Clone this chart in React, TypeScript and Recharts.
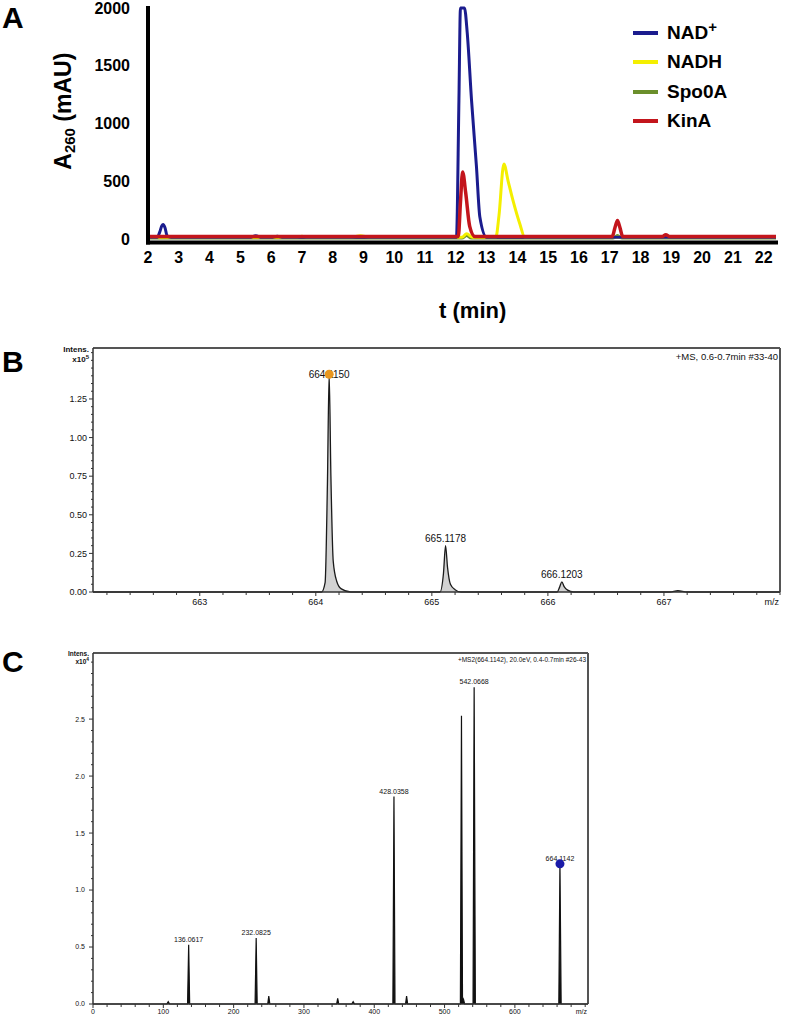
import React from 'react';
import {
  LineChart,
  Line,
  XAxis,
  YAxis,
  Legend,
  ComposedChart,
  Area,
  Scatter,
  ReferenceLine,
} from 'recharts';

const FONT = '"Liberation Sans", Arial, Helvetica, sans-serif';

// ---------- Panel A: HPLC traces, A260 (mAU) vs t (min)
const seriesNames = ['NAD+', 'NADH', 'Spo0A', 'KinA'];
const seriesColors = ['#1b1c8e', '#f4ef00', '#6b8f2b', '#c3151c'];

const nadTimes = [2.0, 2.3, 2.38, 2.45, 2.49, 2.55, 2.62, 2.75, 5.3, 5.5, 5.7, 6.0, 6.2, 6.4, 12.02, 12.1, 12.15, 12.28, 12.37, 12.51, 12.67, 12.78, 13.0, 13.3, 22.4];
const nadVals = [15, 15, 60, 115, 125, 100, 30, 15, 15, 28, 15, 15, 25, 15, 15, 1200, 2000, 2000, 1785, 1200, 625, 190, 15, 15, 15];

const nadhTimes = [2.0, 6.8, 7.0, 7.2, 8.6, 8.9, 9.2, 12.2, 12.35, 12.55, 13.3, 13.4, 13.56, 13.7, 13.86, 14.08, 14.24, 22.4];
const nadhVals = [15, 15, 25, 15, 15, 28, 15, 15, 45, 15, 15, 200, 650, 500, 330, 130, 15, 15];

const spoTimes = [2.0, 12.2, 12.35, 12.5, 17.1, 17.25, 17.4, 22.4];
const spoVals = [8, 8, 30, 8, 8, 30, 8, 8];

const kinTimes = [2.0, 12.08, 12.15, 12.22, 12.32, 12.45, 12.62, 17.08, 17.17, 17.25, 17.33, 17.42, 18.7, 18.82, 18.95, 22.4];
const kinVals = [22, 22, 320, 580, 400, 110, 22, 22, 100, 160, 100, 22, 22, 38, 22, 22];

const timeTicks = [2, 3, 4, 5, 6, 7, 8, 9, 10, 11, 12, 13, 14, 15, 16, 17, 18, 19, 20, 21, 22];
const absTicks = [0, 500, 1000, 1500, 2000];

// ---------- Panel B: MS spectrum
const msMz = [662.08, 664.05, 664.08, 664.1, 664.115, 664.13, 664.15, 664.18, 664.22, 664.3, 665.07, 665.1, 665.118, 665.135, 665.16, 665.2, 665.25, 666.08, 666.1, 666.12, 666.14, 666.17, 666.22, 667.05, 667.12, 667.2, 668.0];
const msInt = [0, 0, 0.06, 0.7, 1.41, 0.75, 0.2, 0.07, 0.02, 0, 0, 0.12, 0.3, 0.16, 0.05, 0.015, 0, 0, 0.03, 0.065, 0.035, 0.012, 0, 0, 0.008, 0, 0];
const msPeakMz = [664.115, 665.118, 666.12];
const msPeakInt = [1.41, 0.3, 0.065];
const msPeakLabels = ['664.1150', '665.1178', '666.1203'];
const msMajorX = [663, 664, 665, 666, 667];
const msMajorY = [0, 0.25, 0.5, 0.75, 1.0, 1.25];
const msInfo = '+MS, 0.6-0.7min #33-40';

// ---------- Panel C: MS2 spectrum
const ms2Mz = [0, 105, 107, 109, 134.5, 136.06, 137.5, 230.5, 232.08, 233.5, 248.5, 250, 251.5, 346.5, 348, 349.5, 368, 370, 372, 426.5, 428.04, 429.5, 444.5, 446, 447.5, 522.5, 524.05, 525.5, 527, 528.5, 540.5, 542.07, 543.8, 662.5, 664.11, 665.8, 704];
const ms2Int = [0, 0, 0.02, 0, 0, 0.52, 0, 0, 0.58, 0, 0, 0.07, 0, 0, 0.05, 0, 0, 0.02, 0, 0, 1.82, 0, 0, 0.07, 0, 0, 2.53, 0.06, 0.04, 0, 0, 2.78, 0, 0, 1.23, 0, 0];
const ms2PeakMz = [136.06, 232.08, 428.04, 542.07, 664.11];
const ms2PeakInt = [0.52, 0.58, 1.82, 2.78, 1.23];
const ms2PeakLabels = ['136.0617', '232.0825', '428.0358', '542.0668', '664.1142'];
const ms2MajorX = [0, 100, 200, 300, 400, 500, 600];
const ms2MajorY = [0, 0.5, 1.0, 1.5, 2.0, 2.5];
const ms2Info = '+MS2(664.1142), 20.0eV, 0.4-0.7min #26-43';

const toPoints = (xs: number[], ys: number[], xk: string, yk: string) =>
  xs.map((x, i) => ({ [xk]: x, [yk]: ys[i] }));

const nadPts = toPoints(nadTimes, nadVals, 't', 'v');
const nadhPts = toPoints(nadhTimes, nadhVals, 't', 'v');
const spoPts = toPoints(spoTimes, spoVals, 't', 'v');
const kinPts = toPoints(kinTimes, kinVals, 't', 'v');

const msPts = toPoints(msMz, msInt, 'mz', 'v');
const msLabelPts = msPeakMz.map((mz, i) => ({ mz, h: msPeakInt[i], label: msPeakLabels[i] }));
const ms2Pts = toPoints(ms2Mz, ms2Int, 'mz', 'v');
const ms2LabelPts = ms2PeakMz.map((mz, i) => ({ mz, h: ms2PeakInt[i], label: ms2PeakLabels[i] }));

// tick positions (majors + minors)
const msXTicks = Array.from({ length: 30 }, (_, i) => +(662.2 + i * 0.2).toFixed(1));
const msYTicks = Array.from({ length: 32 }, (_, i) => +(i * 0.05).toFixed(2));
const ms2XTicks = Array.from({ length: 36 }, (_, i) => i * 20);
const ms2YTicks = Array.from({ length: 31 }, (_, i) => +(i * 0.1).toFixed(1));

const AXIS = '#333';
const near = (a: number, b: number) => Math.abs(a - b) < 1e-6;
const inList = (list: number[]) => (v: number) => list.some((m) => near(m, v));

const PanelLetter = ({ text, top }: { text: string; top: number }) => (
  <div style={{ position: 'absolute', left: 2, top, fontSize: 30, fontWeight: 700, lineHeight: 1 }}>{text}</div>
);

function AbsLabel(props: any) {
  const { viewBox } = props;
  const cx = viewBox.x - 25;
  const cy = viewBox.y + viewBox.height * 0.44;
  return (
    <text
      x={cx}
      y={cy}
      transform={`rotate(-90, ${cx}, ${cy})`}
      textAnchor="middle"
      dominantBaseline="central"
      fontSize={23}
      fontWeight={700}
      fill="#000"
    >
      A<tspan dy={6} fontSize={15}>260</tspan>
      <tspan dy={-6}> (mAU)</tspan>
    </text>
  );
}

function TimeLabel(props: any) {
  const { viewBox } = props;
  return (
    <text x={viewBox.x + viewBox.width * 0.517} y={viewBox.y + viewBox.height + 45} textAnchor="middle" fontSize={22} fontWeight={700} fill="#000">
      t (min)
    </text>
  );
}

function TraceLegend() {
  return (
    <div style={{ fontFamily: FONT, fontWeight: 700, fontSize: 19, color: '#000' }}>
      {seriesNames.map((name, i) => (
        <div key={name} style={{ display: 'flex', alignItems: 'center', height: 29.5 }}>
          <span style={{ display: 'inline-block', width: 25, height: 4, background: seriesColors[i], marginRight: 9 }} />
          {name === 'NAD+' ? (
            <span>
              NAD<sup style={{ fontSize: 15, lineHeight: 0 }}>+</sup>
            </span>
          ) : (
            <span>{name}</span>
          )}
        </div>
      ))}
    </div>
  );
}

// minor/major ticks for the spectrum axes
function makeYTick(isMajor: (v: number) => boolean, digits: number, fontSize: number, gap: number) {
  return (props: any) => {
    const { x, y, payload } = props;
    const major = isMajor(payload.value);
    return (
      <g>
        <line x1={x} x2={x - (major ? 4 : 2)} y1={y} y2={y} stroke={AXIS} strokeWidth={1} />
        {major && (
          <text x={x - gap} y={y} dy="0.35em" textAnchor="end" fontSize={fontSize} fill="#111">
            {payload.value.toFixed(digits)}
          </text>
        )}
      </g>
    );
  };
}

function makeXTick(isMajor: (v: number) => boolean, fontSize: number, dy: number) {
  return (props: any) => {
    const { x, y, payload } = props;
    const major = isMajor(payload.value);
    return (
      <g>
        <line x1={x} x2={x} y1={y} y2={y + (major ? 4 : 3)} stroke={AXIS} strokeWidth={1} />
        {major && (
          <text x={x} y={y + dy} textAnchor="middle" fontSize={fontSize} fill="#111">
            {String(Math.round(payload.value))}
          </text>
        )}
      </g>
    );
  };
}

const msYTick = makeYTick(inList(msMajorY), 2, 9, 6);
const msXTick = makeXTick(inList(msMajorX), 9, 13);
const ms2YTick = makeYTick(inList(ms2MajorY), 1, 7, 8);
const ms2XTick = makeXTick(inList(ms2MajorX), 7, 10);

function intensLabel(power: string, fontSize: number) {
  return (props: any) => {
    const { viewBox } = props;
    const rx = viewBox.x + viewBox.width - 4;
    return (
      <g fontSize={fontSize} fill="#111" fontWeight={700}>
        <text x={rx} y={viewBox.y + fontSize * 0.45} textAnchor="end">Intens.</text>
        <text x={rx} y={viewBox.y + fontSize * 1.75} textAnchor="end">
          x10<tspan dy={-3} fontSize={fontSize * 0.75}>{power}</tspan>
        </text>
      </g>
    );
  };
}

function mzLabel(fontSize: number, dy: number) {
  return (props: any) => {
    const { viewBox } = props;
    return (
      <text x={viewBox.x + viewBox.width - 1} y={viewBox.y + dy} textAnchor="end" fontSize={fontSize} fill="#111">
        m/z
      </text>
    );
  };
}

function infoLabel(text: string, fontSize: number) {
  return (props: any) => {
    const { viewBox } = props;
    return (
      <text x={viewBox.x + viewBox.width - 2} y={viewBox.y + fontSize + 2} textAnchor="end" fontSize={fontSize} fill="#111">
        {text}
      </text>
    );
  };
}

function peakLabelShape(fontSize: number, lift: number) {
  return (props: any) => {
    const { cx, cy, payload } = props;
    // the tallest MS label sits on the apex, the others just above it
    const dy = payload.h > 1 && fontSize > 8 ? fontSize * 0.35 : -lift;
    return (
      <text x={cx} y={cy + dy} textAnchor="middle" fontSize={fontSize} fill="#111">
        {payload.label}
      </text>
    );
  };
}

export default function App() {
  return (
    <div style={{ position: 'absolute', left: 0, top: 0, width: 785, height: 1018, fontFamily: FONT, background: '#fff' }}>
      {/* Panel A */}
      <div style={{ position: 'absolute', left: 0, top: 0 }}>
        <LineChart width={785} height={330} margin={{ top: 8, right: 9, bottom: 57.5, left: 88 }}>
          <XAxis
            type="number"
            dataKey="t"
            domain={[2, 22.4]}
            ticks={timeTicks}
            interval={0}
            tickLine={false}
            tickMargin={3}
            height={30}
            axisLine={{ stroke: '#000', strokeWidth: 4, strokeLinecap: 'square' }}
            tick={{ fontSize: 16, fontWeight: 700, fill: '#000' }}
            label={TimeLabel}
          />
          <YAxis
            type="number"
            domain={[-30, 2000]}
            ticks={absTicks}
            interval={0}
            width={60}
            tickLine={false}
            tickMargin={12}
            axisLine={{ stroke: '#000', strokeWidth: 4, strokeLinecap: 'square' }}
            tick={{ fontSize: 16, fontWeight: 700, fill: '#000' }}
            label={AbsLabel}
          />
          <Legend
            layout="vertical"
            align="center"
            verticalAlign="middle"
            wrapperStyle={{ top: 18, left: 633, width: 150 }}
            content={TraceLegend}
          />
          <Line data={spoPts} dataKey="v" name="Spo0A" type="monotone" stroke={seriesColors[2]} strokeWidth={3} dot={false} isAnimationActive={false} />
          <Line data={nadhPts} dataKey="v" name="NADH" type="monotone" stroke={seriesColors[1]} strokeWidth={3} dot={false} isAnimationActive={false} />
          <Line data={nadPts} dataKey="v" name="NAD+" type="monotone" stroke={seriesColors[0]} strokeWidth={3} dot={false} isAnimationActive={false} />
          <Line data={kinPts} dataKey="v" name="KinA" type="monotone" stroke={seriesColors[3]} strokeWidth={3.5} dot={false} isAnimationActive={false} />
        </LineChart>
      </div>
      <PanelLetter text="A" top={3} />

      {/* Panel B */}
      <div style={{ position: 'absolute', left: 0, top: 330 }}>
        <ComposedChart width={785} height={290} data={msPts} margin={{ top: 18, right: 5, bottom: 8, left: 0 }}>
          <XAxis
            type="number"
            dataKey="mz"
            domain={[662.08, 668.0]}
            ticks={msXTicks}
            interval={0}
            tickLine={false}
            tickSize={0}
            tickMargin={0}
            height={20}
            axisLine={{ stroke: AXIS, strokeWidth: 1.5 }}
            tick={msXTick}
            label={mzLabel(9, 13)}
          />
          <YAxis
            type="number"
            domain={[0, 1.58]}
            ticks={msYTicks}
            interval={0}
            width={93}
            tickLine={false}
            tickSize={0}
            tickMargin={0}
            axisLine={{ stroke: AXIS, strokeWidth: 1.5 }}
            tick={msYTick}
            label={intensLabel('5', 8)}
          />
          <ReferenceLine y={1.58} stroke="#555" strokeWidth={2} label={infoLabel(msInfo, 9.5)} />
          <ReferenceLine x={668.0} stroke="#555" strokeWidth={2} />
          <Area type="monotone" dataKey="v" stroke="#1a1a1a" strokeWidth={1.3} fill="#d2d2d2" fillOpacity={1} isAnimationActive={false} />
          <Scatter data={msLabelPts} dataKey="h" shape={peakLabelShape(10, 4)} isAnimationActive={false} />
          <Scatter data={msLabelPts.slice(0, 1)} dataKey="h" fill="#e8961e" shape="circle" isAnimationActive={false} />
        </ComposedChart>
      </div>
      <PanelLetter text="B" top={347} />

      {/* Panel C */}
      <div style={{ position: 'absolute', left: 0, top: 620 }}>
        <ComposedChart width={600} height={398} data={ms2Pts} margin={{ top: 33, right: 12, bottom: 0, left: 0 }}>
          <XAxis
            type="number"
            dataKey="mz"
            domain={[0, 704]}
            ticks={ms2XTicks}
            interval={0}
            tickLine={false}
            tickSize={0}
            tickMargin={0}
            height={14}
            axisLine={{ stroke: AXIS, strokeWidth: 1.5 }}
            tick={ms2XTick}
            label={mzLabel(7, 10)}
          />
          <YAxis
            type="number"
            domain={[0, 3.08]}
            ticks={ms2YTicks}
            interval={0}
            width={93}
            tickLine={false}
            tickSize={0}
            tickMargin={0}
            axisLine={{ stroke: AXIS, strokeWidth: 1.5 }}
            tick={ms2YTick}
            label={intensLabel('4', 6.5)}
          />
          <ReferenceLine y={3.08} stroke="#555" strokeWidth={2} label={infoLabel(ms2Info, 6.5)} />
          <ReferenceLine x={704} stroke="#555" strokeWidth={2} />
          <Area type="linear" dataKey="v" stroke="#111" strokeWidth={1.2} fill="#111" fillOpacity={1} isAnimationActive={false} />
          <Scatter data={ms2LabelPts} dataKey="h" shape={peakLabelShape(7, 3)} isAnimationActive={false} />
          <Scatter data={ms2LabelPts.slice(4)} dataKey="h" fill="#1a1aa8" shape="circle" isAnimationActive={false} />
        </ComposedChart>
      </div>
      <PanelLetter text="C" top={647} />
    </div>
  );
}
